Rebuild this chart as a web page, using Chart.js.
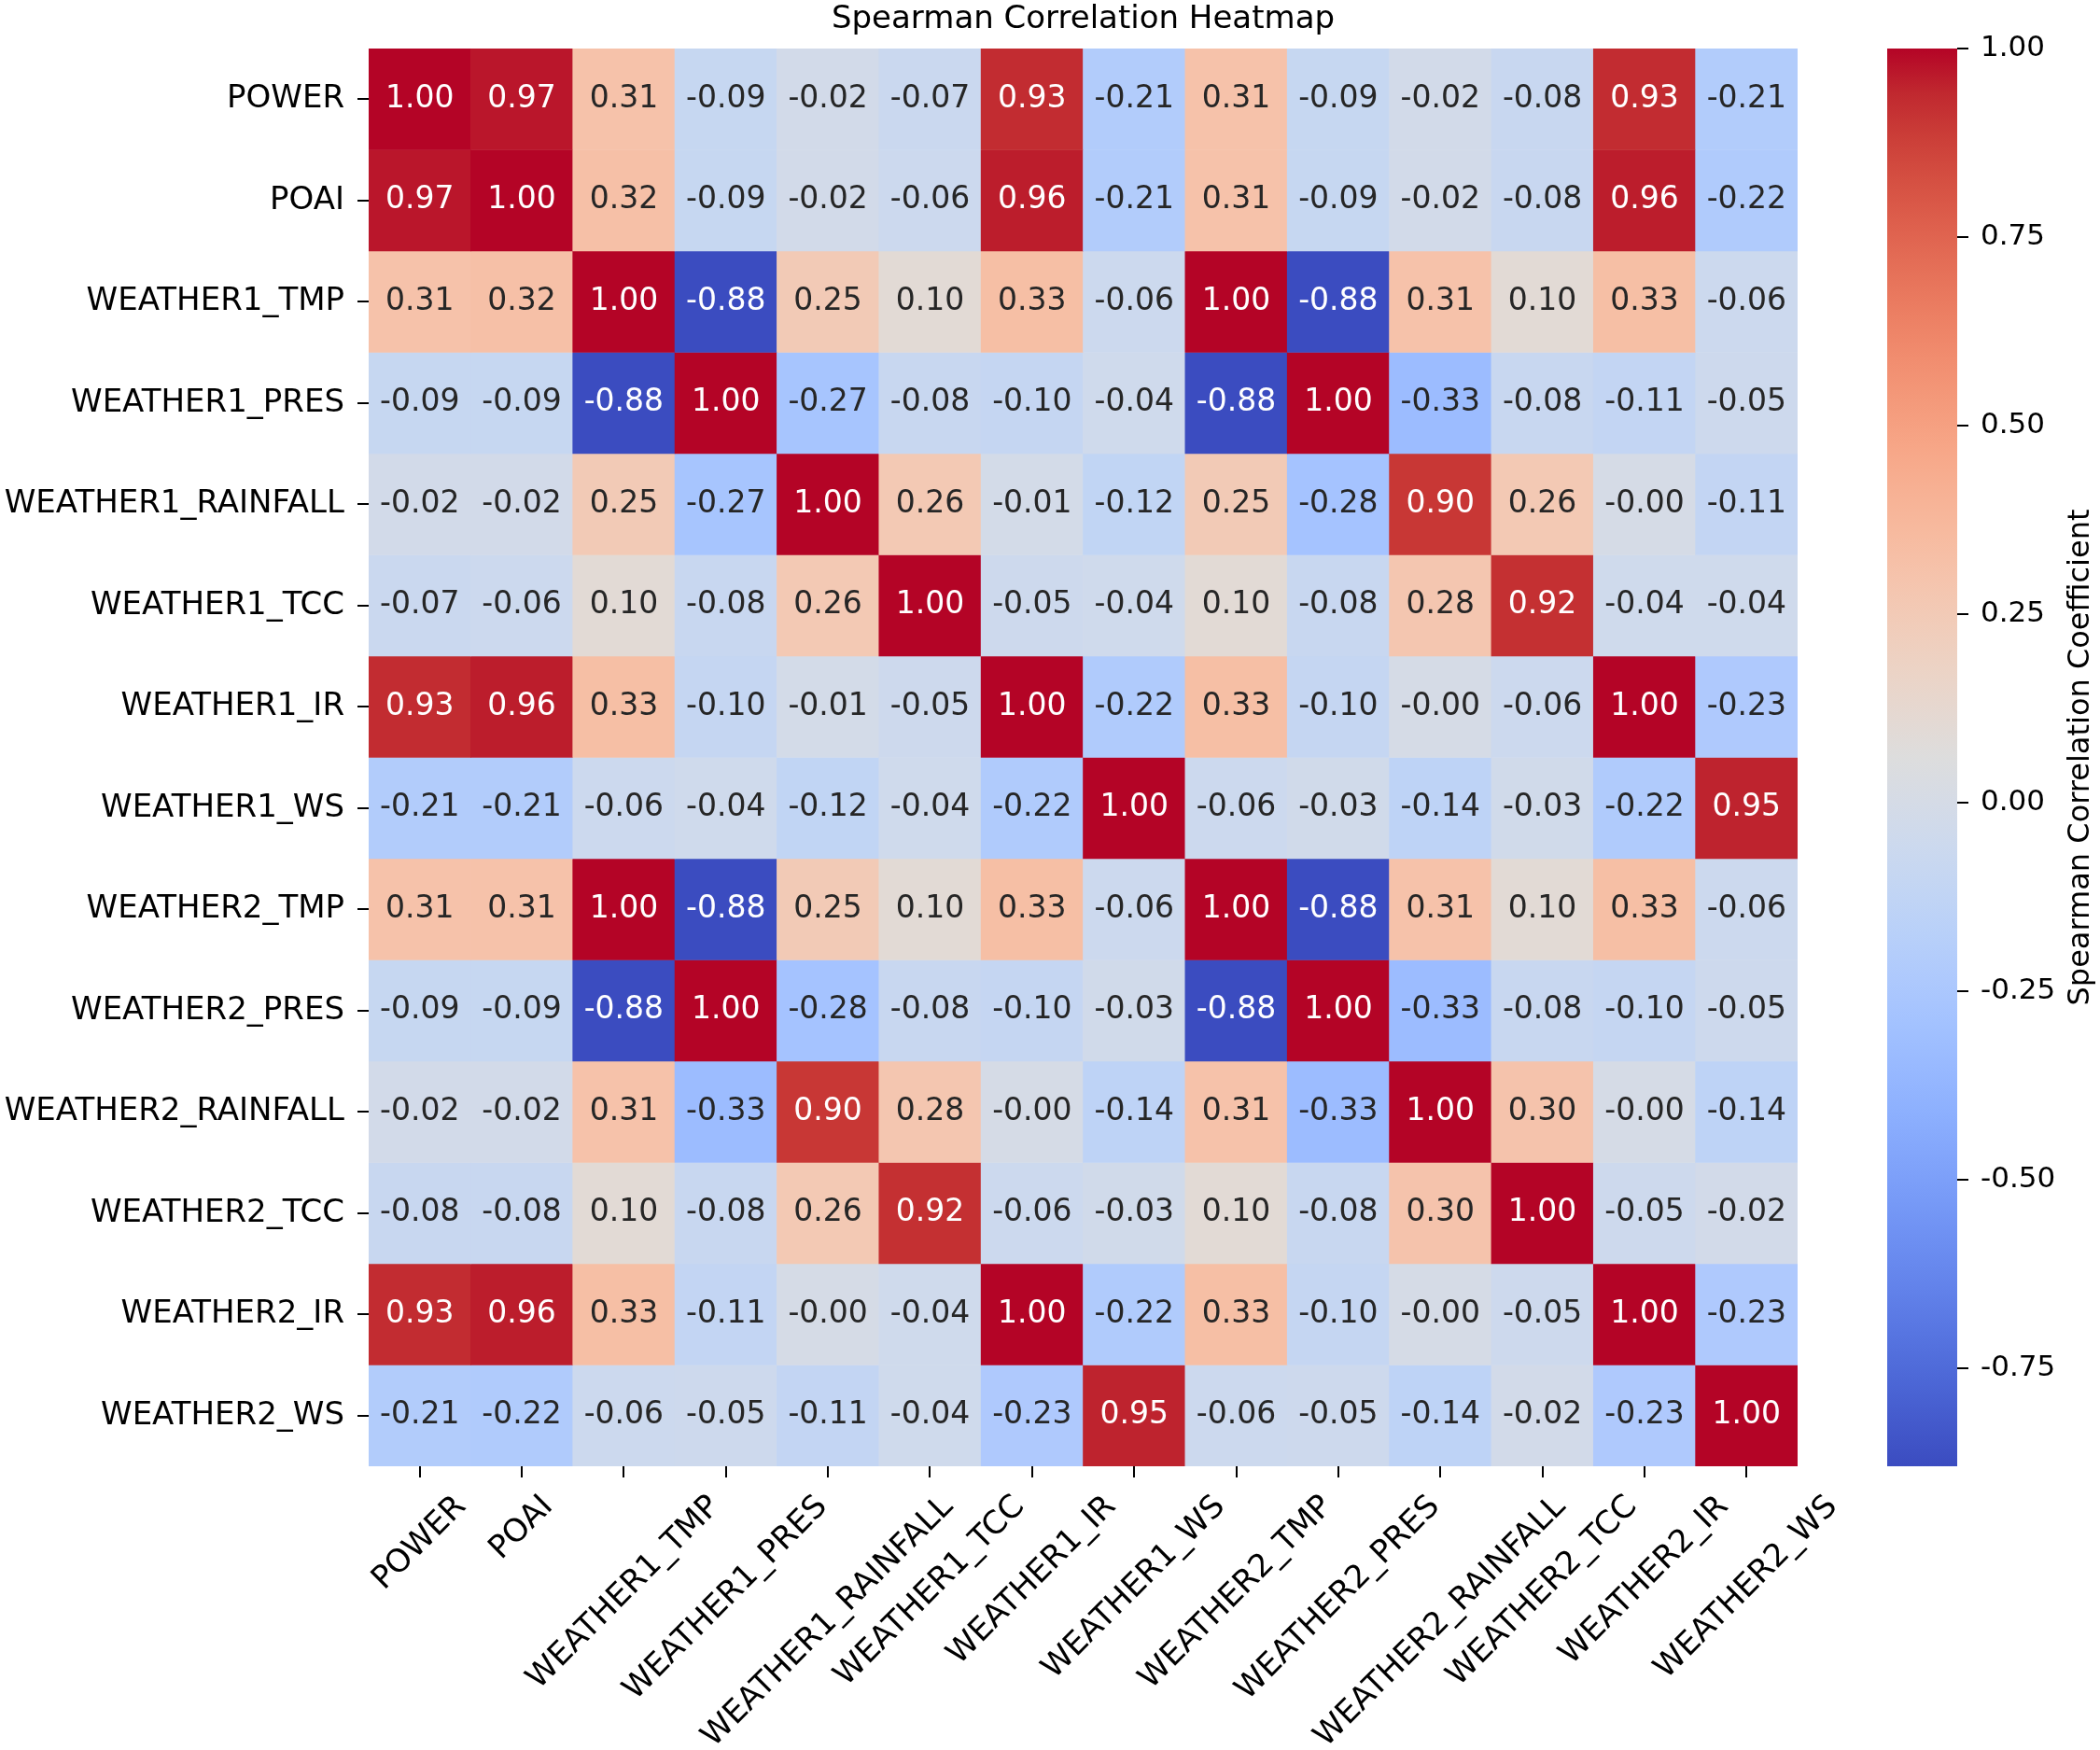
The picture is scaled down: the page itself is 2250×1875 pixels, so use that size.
<!DOCTYPE html>
<html>
<head>
<meta charset="utf-8">
<title>Spearman Correlation Heatmap</title>
<script src="https://cdn.jsdelivr.net/npm/chart.js@4.4.1/dist/chart.umd.min.js"></script>
<style>
  html, body { margin: 0; padding: 0; background: #fff; }
  #wrap { position: relative; width: 2250px; height: 1875px; }
  #heat { position: absolute; left: 0; top: 0; }
  #bar { position: absolute; left: 2022px; top: 0; }
</style>
</head>
<body>
<div id="wrap">
  <canvas id="heat" width="2250" height="1875"></canvas>
  <canvas id="bar" width="228" height="1875"></canvas>
</div>
<script>
// Variable names (rows and columns share the same order)
const labels = [
  "POWER", "POAI", "WEATHER1_TMP", "WEATHER1_PRES", "WEATHER1_RAINFALL", "WEATHER1_TCC",
  "WEATHER1_IR", "WEATHER1_WS", "WEATHER2_TMP", "WEATHER2_PRES", "WEATHER2_RAINFALL",
  "WEATHER2_TCC", "WEATHER2_IR", "WEATHER2_WS"
];

// Correlation rows (-0.001 stands for a printed "-0.00")
const rowPower      = [1.00, 0.97, 0.31, -0.09, -0.02, -0.07, 0.93, -0.21, 0.31, -0.09, -0.02, -0.08, 0.93, -0.21];
const rowPoai       = [0.97, 1.00, 0.32, -0.09, -0.02, -0.06, 0.96, -0.21, 0.31, -0.09, -0.02, -0.08, 0.96, -0.22];
const rowW1Tmp      = [0.31, 0.32, 1.00, -0.88, 0.25, 0.10, 0.33, -0.06, 1.00, -0.88, 0.31, 0.10, 0.33, -0.06];
const rowW1Pres     = [-0.09, -0.09, -0.88, 1.00, -0.27, -0.08, -0.10, -0.04, -0.88, 1.00, -0.33, -0.08, -0.11, -0.05];
const rowW1Rainfall = [-0.02, -0.02, 0.25, -0.27, 1.00, 0.26, -0.01, -0.12, 0.25, -0.28, 0.90, 0.26, -0.001, -0.11];
const rowW1Tcc      = [-0.07, -0.06, 0.10, -0.08, 0.26, 1.00, -0.05, -0.04, 0.10, -0.08, 0.28, 0.92, -0.04, -0.04];
const rowW1Ir       = [0.93, 0.96, 0.33, -0.10, -0.01, -0.05, 1.00, -0.22, 0.33, -0.10, -0.001, -0.06, 1.00, -0.23];
const rowW1Ws       = [-0.21, -0.21, -0.06, -0.04, -0.12, -0.04, -0.22, 1.00, -0.06, -0.03, -0.14, -0.03, -0.22, 0.95];
const rowW2Tmp      = [0.31, 0.31, 1.00, -0.88, 0.25, 0.10, 0.33, -0.06, 1.00, -0.88, 0.31, 0.10, 0.33, -0.06];
const rowW2Pres     = [-0.09, -0.09, -0.88, 1.00, -0.28, -0.08, -0.10, -0.03, -0.88, 1.00, -0.33, -0.08, -0.10, -0.05];
const rowW2Rainfall = [-0.02, -0.02, 0.31, -0.33, 0.90, 0.28, -0.001, -0.14, 0.31, -0.33, 1.00, 0.30, -0.001, -0.14];
const rowW2Tcc      = [-0.08, -0.08, 0.10, -0.08, 0.26, 0.92, -0.06, -0.03, 0.10, -0.08, 0.30, 1.00, -0.05, -0.02];
const rowW2Ir       = [0.93, 0.96, 0.33, -0.11, -0.001, -0.04, 1.00, -0.22, 0.33, -0.10, -0.001, -0.05, 1.00, -0.23];
const rowW2Ws       = [-0.21, -0.22, -0.06, -0.05, -0.11, -0.04, -0.23, 0.95, -0.06, -0.05, -0.14, -0.02, -0.23, 1.00];

const corr = [rowPower, rowPoai, rowW1Tmp, rowW1Pres, rowW1Rainfall, rowW1Tcc, rowW1Ir,
              rowW1Ws, rowW2Tmp, rowW2Pres, rowW2Rainfall, rowW2Tcc, rowW2Ir, rowW2Ws];

// Colour bar range and ticks
const vmin = -0.88;
const vmax = 1.00;
const cbTicks = [-0.75, -0.50, -0.25, 0.00, 0.25, 0.50, 0.75, 1.00];

const FONT = "DejaVu Sans";
const LABEL_SIZE = 34;   // axis labels and title
const CELL_SIZE = 33;    // annotations
const CB_SIZE = 31;      // colour bar ticks

// coolwarm colormap, 33 evenly spaced stops
const CW = [
  [59,76,192],[68,90,204],[77,104,215],[87,117,225],[98,130,234],[108,142,241],[119,154,247],
  [130,165,251],[141,176,254],[152,185,255],[163,194,255],[174,201,253],[184,208,249],
  [194,213,244],[204,217,238],[213,219,230],[221,221,221],[229,216,209],[236,211,197],
  [241,204,185],[245,196,173],[247,187,160],[247,177,148],[247,166,135],[244,154,123],
  [241,141,111],[236,127,99],[229,112,88],[222,96,77],[213,80,66],[203,62,56],[192,40,47],[180,4,38]
];

function coolwarm(v) {
  let t = (v - vmin) / (vmax - vmin);
  t = Math.min(1, Math.max(0, t));
  const p = t * (CW.length - 1);
  const i = Math.min(CW.length - 2, Math.floor(p));
  const f = p - i;
  const a = CW[i], b = CW[i + 1];
  return [0, 1, 2].map(k => Math.round(a[k] + (b[k] - a[k]) * f));
}

function rgbStr(c) {
  return `rgb(${c[0]},${c[1]},${c[2]})`;
}

// relative luminance, same rule seaborn uses to pick the annotation colour
function luminance(c) {
  const l = c.map(v => {
    v /= 255;
    return v <= 0.03928 ? v / 12.92 : Math.pow((v + 0.055) / 1.055, 2.4);
  });
  return 0.2126 * l[0] + 0.7152 * l[1] + 0.0722 * l[2];
}

// Cell annotations
const annotPlugin = {
  id: "annot",
  afterDatasetsDraw(chart) {
    const ctx = chart.ctx;
    ctx.save();
    ctx.font = `${CELL_SIZE}px "${FONT}"`;
    ctx.textAlign = "center";
    ctx.textBaseline = "middle";
    corr.forEach((row, i) => {
      const meta = chart.getDatasetMeta(i);
      meta.data.forEach((el, j) => {
        const c = coolwarm(row[j]);
        ctx.fillStyle = luminance(c) > 0.408 ? "#262626" : "#ffffff";
        ctx.fillText(row[j].toFixed(2), el.x, (el.y + el.base) / 2);
      });
    });
    ctx.restore();
  }
};

// Rotated x labels, centred under each tick like matplotlib does
const xLabelPlugin = {
  id: "xlabels",
  afterDraw(chart) {
    const { ctx, chartArea } = chart;
    const x = chart.scales.x;
    const top = chartArea.bottom + 12 + 12;
    ctx.save();
    ctx.font = `${LABEL_SIZE}px "${FONT}"`;
    ctx.fillStyle = "#000";
    ctx.textAlign = "center";
    ctx.textBaseline = "middle";
    labels.forEach((lab, j) => {
      const px = x.getPixelForValue(j);
      const w = ctx.measureText(lab).width;
      const side = (w + LABEL_SIZE * 1.164) * Math.SQRT1_2;
      ctx.save();
      ctx.translate(px, top + side / 2);
      ctx.rotate(-Math.PI / 4);
      ctx.fillText(lab, 0, 0);
      ctx.restore();
    });
    ctx.restore();
  }
};

const datasets = corr.map((row, i) => ({
  label: labels[i],
  data: row.map(() => [i, i + 1]),
  backgroundColor: row.map(v => rgbStr(coolwarm(v))),
  borderWidth: 0,
  barPercentage: 1,
  categoryPercentage: 1,
  grouped: false
}));

new Chart(document.getElementById("heat"), {
  type: "bar",
  data: { labels: labels, datasets: datasets },
  options: {
    responsive: false,
    animation: false,
    layout: { padding: { left: 0, right: 324, top: 0, bottom: 0 } },
    plugins: {
      legend: { display: false },
      tooltip: { enabled: false },
      title: {
        display: true,
        text: "Spearman Correlation Heatmap",
        color: "#000",
        fullSize: false,
        font: { family: FONT, size: LABEL_SIZE, weight: "normal", lineHeight: 1.2 },
        padding: { top: 1, bottom: 10.2 }
      }
    },
    scales: {
      x: {
        type: "category",
        offset: true,
        grid: { display: true, drawOnChartArea: false, offset: false, drawTicks: true, tickLength: 12, color: "#000", lineWidth: 2 },
        border: { display: false },
        ticks: { display: false },
        afterFit: s => { s.height = 304; }
      },
      y: {
        type: "linear",
        min: 0,
        max: 14,
        reverse: true,
        afterBuildTicks: s => { s.ticks = labels.map((_, i) => ({ value: i + 0.5 })); },
        ticks: {
          autoSkip: false,
          callback: (v, idx) => labels[idx],
          color: "#000",
          font: { family: FONT, size: LABEL_SIZE },
          padding: 14
        },
        grid: { drawOnChartArea: false, tickLength: 12, color: "#000", lineWidth: 2 },
        border: { display: false },
        afterFit: s => { s.width = 395; }
      }
    }
  },
  plugins: [annotPlugin, xLabelPlugin]
});

// Colour bar
const cbLabelPlugin = {
  id: "cblabel",
  afterDraw(chart) {
    const { ctx, chartArea } = chart;
    ctx.save();
    ctx.font = `32px "${FONT}"`;
    ctx.fillStyle = "#000";
    ctx.textAlign = "center";
    ctx.textBaseline = "middle";
    ctx.translate(208, (chartArea.top + chartArea.bottom) / 2);
    ctx.rotate(-Math.PI / 2);
    ctx.fillText("Spearman Correlation Coefficient", 0, 0);
    ctx.restore();
  }
};

new Chart(document.getElementById("bar"), {
  type: "bar",
  data: {
    labels: [""],
    datasets: [{
      data: [[vmin, vmax]],
      backgroundColor: c => {
        const chart = c.chart;
        const y = chart.scales.y;
        if (!chart.chartArea || !y) return "rgba(0,0,0,0)";
        const g = chart.ctx.createLinearGradient(0, y.getPixelForValue(vmin), 0, y.getPixelForValue(vmax));
        CW.forEach((col, k) => g.addColorStop(k / (CW.length - 1), rgbStr(col)));
        return g;
      },
      borderWidth: 0,
      barPercentage: 1,
      categoryPercentage: 1
    }]
  },
  options: {
    responsive: false,
    animation: false,
    layout: { padding: { top: 52, bottom: 304, left: 0, right: 0 } },
    plugins: { legend: { display: false }, tooltip: { enabled: false } },
    scales: {
      x: { display: false },
      y: {
        position: "right",
        min: vmin,
        max: vmax,
        afterBuildTicks: s => { s.ticks = cbTicks.map(v => ({ value: v })); },
        ticks: {
          callback: v => v.toFixed(2),
          color: "#000",
          font: { family: FONT, size: CB_SIZE },
          padding: 13
        },
        grid: { drawOnChartArea: false, tickLength: 12, color: "#000", lineWidth: 2 },
        border: { display: false },
        afterFit: s => { s.width = 153; }
      }
    }
  },
  plugins: [cbLabelPlugin]
});
</script>
</body>
</html>
